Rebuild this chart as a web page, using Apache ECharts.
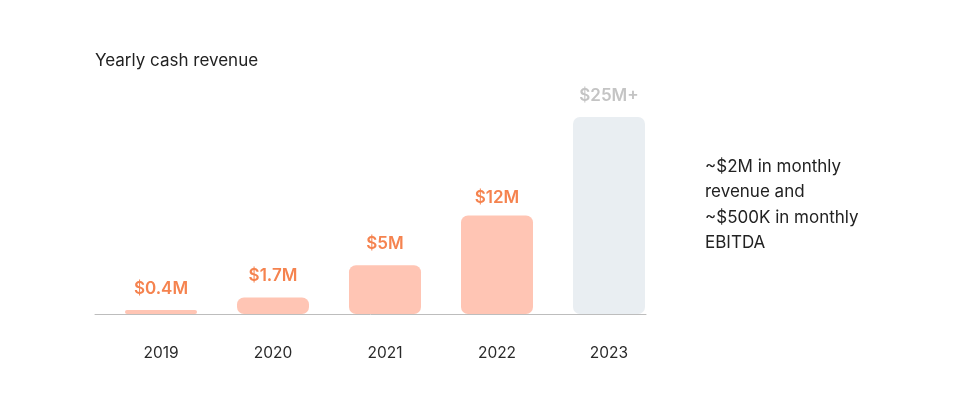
<!DOCTYPE html>
<html>
<head>
<meta charset="utf-8">
<script src="https://cdn.jsdelivr.net/npm/echarts@6/dist/echarts.min.js"></script>
<style>
  html, body { margin: 0; padding: 0; background: #ffffff; }
  #chart { width: 980px; height: 400px; }
</style>
</head>
<body>
<div id="chart"></div>
<script>
// Data
const years = ['2019', '2020', '2021', '2022', '2023'];
// bar heights as drawn (in $M on the bar scale)
const barValues = [0.5, 2.1, 6.2, 12.5, 25];
// labels printed above the bars
const barLabels = ['$0.4M', '$1.7M', '$5M', '$12M', '$25M+'];
const isProjection = [false, false, false, false, true];
const chartTitle = 'Yearly cash revenue';
const sideNote = '~$2M in monthly\nrevenue and\n~$500K in monthly\nEBITDA';

const FONT = 'Inter, "Noto Sans", sans-serif';
const ACTUAL_BAR = '#FFC5B4';
const PROJ_BAR = '#E9EEF2';
const ACTUAL_LABEL = '#F5834F';
const PROJ_LABEL = '#C4C4C4';

const labelDistance = [13, 13, 13, 9, 13];

const chart = echarts.init(document.getElementById('chart'), null, { renderer: 'canvas' });

chart.setOption({
  backgroundColor: '#ffffff',
  animation: false,
  title: {
    text: chartTitle,
    left: 95,
    top: 52,
    padding: 0,
    textStyle: { fontFamily: FONT, fontSize: 17, fontWeight: 400, color: '#222222' }
  },
  grid: [
    { left: 105, width: 560, top: 117, bottom: 86 },
    { left: 95, width: 551, top: 117, bottom: 86 }
  ],
  xAxis: [
    {
      type: 'category',
      gridIndex: 0,
      data: years,
      axisLine: { show: false },
      axisTick: { show: false },
      axisLabel: { margin: 31, fontFamily: FONT, fontSize: 15.5, color: '#2a2a2a' }
    },
    {
      type: 'value',
      gridIndex: 1,
      min: 0,
      max: 1,
      axisLine: { show: true, onZero: false, lineStyle: { color: '#BDBDBD', width: 1 } },
      axisTick: { show: false },
      axisLabel: { show: false },
      splitLine: { show: false }
    }
  ],
  yAxis: [
    { type: 'value', gridIndex: 0, min: 0, max: 25, show: false, splitLine: { show: false } },
    { type: 'value', gridIndex: 1, min: 0, max: 1, show: false, splitLine: { show: false } }
  ],
  series: [
    {
      type: 'bar',
      xAxisIndex: 0,
      yAxisIndex: 0,
      barWidth: 72,
      data: barValues.map((v, i) => ({
        value: v,
        itemStyle: {
          color: isProjection[i] ? PROJ_BAR : ACTUAL_BAR,
          borderRadius: 7
        },
        label: {
          show: true,
          position: 'top',
          distance: labelDistance[i],
          formatter: barLabels[i],
          fontFamily: FONT,
          fontSize: 17,
          fontWeight: 600,
          color: isProjection[i] ? PROJ_LABEL : ACTUAL_LABEL
        }
      }))
    }
  ],
  graphic: [
    {
      type: 'text',
      left: 705,
      top: 154,
      style: {
        text: sideNote,
        fontFamily: FONT,
        fontSize: 17,
        lineHeight: 25.5,
        fill: '#222222'
      }
    }
  ]
});
</script>
</body>
</html>
